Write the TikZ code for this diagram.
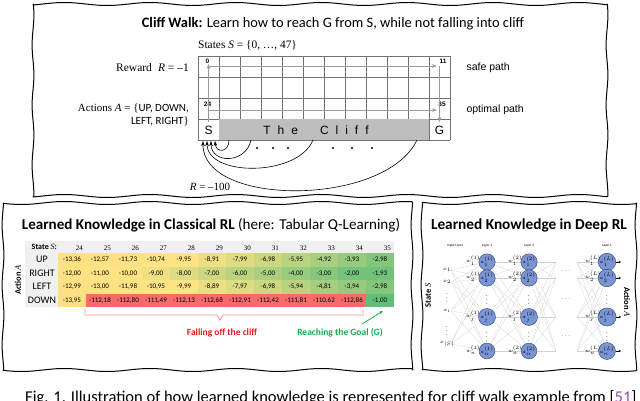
\documentclass[tikz,border=0pt]{standalone}
\usepackage{fontspec}
\setmainfont{Carlito}
\newfontfamily\arialfont{Liberation Sans}
\newfontfamily\timesfont{Liberation Serif}
\usetikzlibrary{arrows.meta}

\definecolor{cred}{HTML}{F8696B}
\definecolor{cyel}{HTML}{FFE484}
\definecolor{cgrn}{HTML}{63BE7B}
\definecolor{hdrgray}{HTML}{F0F0F0}
\definecolor{cliffgray}{HTML}{BEBEBE}
\definecolor{pathgray}{HTML}{9A9A9A}
\definecolor{fallred}{HTML}{F01818}
\definecolor{goalgreen}{HTML}{10B050}
\definecolor{bracketred}{HTML}{F29A9A}
\definecolor{nodeblue}{HTML}{7A95D6}
\definecolor{nodeedge}{HTML}{2E3F6E}
\definecolor{citepurple}{HTML}{8A4FB0}

\tikzset{
  panelline/.style={draw, line width=1pt, line join=round},
  gridline/.style={draw=black!55, line width=0.6pt},
  safearrow/.style={draw=pathgray, line width=0.8pt, -{Stealth[length=5pt]}},
  fallarrow/.style={draw=black, line width=0.6pt, -{Stealth[length=5pt,width=3.5pt]}},
  cellnum/.style={font=\arialfont\bfseries\fontsize{6.5}{7}\selectfont, inner sep=0pt},
  qcell/.style={inner sep=0pt, font=\fontsize{7}{8}\selectfont},
  rowlabel/.style={font=\fontsize{10}{11}\selectfont, inner sep=0pt},
  neuron/.style={circle, draw=nodeedge, fill=nodeblue, line width=0.4pt,
    minimum size=12pt, inner sep=0pt, font=\fontsize{3}{3}\selectfont},
  wire/.style={draw=gray!35, line width=0.25pt},
  tinytext/.style={font=\fontsize{3.5}{4}\selectfont, inner sep=0pt},
  dotsnode/.style={font=\fontsize{6}{6}\selectfont, inner sep=0pt}
}

% hand drawn looking frame: x1, y1, x2, y2
\newcommand{\wavypanel}[4]{%
  \draw[panelline] plot[domain=#1:#3, samples=90, smooth] (\x, {#2+1.5*sin(4.2*\x)})
    -- plot[domain=#2:#4, samples=40, smooth] ({#3+0.9*sin(6*\x)}, \x)
    -- plot[domain=#3:#1, samples=90, smooth] (\x, {#4+1.5*sin(4.2*\x)})
    -- plot[domain=#4:#2, samples=40, smooth] ({#1+0.9*sin(6*\x)}, \x) -- cycle;
}

\begin{document}
\begin{tikzpicture}[x=1pt,y=-1pt]
\useasboundingbox (0,0) rectangle (640,401);

% top panel: the cliff walk grid
\wavypanel{33}{4}{607}{196}
\node[anchor=base, font=\fontsize{14.4}{16}\selectfont] (cwtitle) at (333,28)
  {\textbf{Cliff Walk:} Learn how to reach G from S, while not falling into cliff};
\node[anchor=base west, font=\timesfont\fontsize{11.4}{12}\selectfont, inner sep=0pt] (states) at (198,49)
  {States {\itshape S} = \{0, …, 47\}};
\node[anchor=east, font=\timesfont\fontsize{11.5}{12}\selectfont, inner sep=0pt] (reward) at (189,68)
  {Reward\; {\itshape R} = –1};
\node[anchor=east, font=\fontsize{11}{12}\selectfont, inner sep=0pt] (act1) at (189,108)
  {{\timesfont Actions {\itshape A} = \{}UP, DOWN,};
\node[anchor=east, font=\fontsize{11}{12}\selectfont, inner sep=0pt] (act2) at (189,121)
  {LEFT, RIGHT{\timesfont\}}};
\node[anchor=west, font=\arialfont\fontsize{10.5}{12}\selectfont] (safe) at (463,68) {safe path};
\node[anchor=west, font=\arialfont\fontsize{10.5}{12}\selectfont] (optimal) at (463,110) {optimal path};

\foreach \i in {0,...,12}
  \draw[gridline] (198+21*\i,56) -- (198+21*\i,140);
\foreach \j in {0,...,4}
  \draw[gridline] (198,56+21*\j) -- (450,56+21*\j);
\fill[cliffgray] (219.4,119.4) rectangle (428.6,139.6);

\node[font=\arialfont\fontsize{12}{12}\selectfont] (start) at (208.5,130) {S};
\node[font=\arialfont\fontsize{12}{12}\selectfont] (goal) at (439.5,130) {G};
\node[font=\arialfont\fontsize{12}{12}\selectfont] (cliff) at (316,130)
  {T\hspace{7pt}h\hspace{7pt}e\hspace{22pt}C\hspace{7pt}l\hspace{7pt}i\hspace{7pt}f\hspace{7pt}f};
\node[cellnum] (n0) at (207.5,61) {0};
\node[cellnum] (n11) at (443,61) {11};
\node[cellnum] (n24) at (207.5,104) {24};
\node[cellnum] (n35) at (442,104) {35};

% safe and optimal paths
\coordinate (upTop) at (208.5,64);
\coordinate (safeL) at (208.5,66);
\coordinate (safeR) at (437,66);
\coordinate (downTop) at (439.5,66);
\coordinate (optL) at (208.5,110);
\coordinate (optR) at (437,110);
\draw[safearrow] (start.north) -- (upTop);
\draw[safearrow] (safeL) -- (safeR);
\draw[safearrow] (downTop) -- (goal.north);
\draw[safearrow] (optL) -- (optR);

% falling off the cliff
\coordinate (fall1) at (229,140);
\coordinate (fall2) at (251,140);
\coordinate (fall3) at (313,140);
\coordinate (fall4) at (417,140);
\coordinate (hit1) at (215,141);
\coordinate (hit2) at (211,141);
\coordinate (hit3) at (207,141);
\coordinate (hit4) at (203,141);
\draw[fallarrow] (fall1) .. controls (229,153) and (216,153) .. (hit1);
\draw[fallarrow] (fall2) .. controls (246,164) and (211,164) .. (hit2);
\draw[fallarrow] (fall3) .. controls (298,177) and (207,177) .. (hit3);
\draw[fallarrow] (fall4) .. controls (385,207) and (202,207) .. (hit4);
\foreach \x in {257,273,288,333,352,372}
  \fill (\x,148) circle (1.1pt);
\node[font=\timesfont\fontsize{11}{12}\selectfont] (rfall) at (210,187) {{\itshape R} = –100};

% bottom left panel: Q-table
\wavypanel{3}{203}{412}{370}
\node[anchor=base, font=\fontsize{15.1}{16}\selectfont] (qtitle) at (211,229)
  {\textbf{Learned Knowledge in Classical RL} (here: Tabular Q-Learning)};
\fill[hdrgray] (25,241) rectangle (394,253);
\fill[hdrgray] (25,253) rectangle (58,307);
\node[anchor=east, font=\bfseries\fontsize{8}{9}\selectfont, inner sep=0pt] (statehdr) at (57,247)
  {State {\timesfont\mdseries\itshape S}:};
\node[rotate=90, font=\bfseries\fontsize{8.5}{9}\selectfont] (actlbl) at (18,280)
  {Action {\timesfont\mdseries\itshape A}};
\foreach \s [count=\c from 0] in {24,...,35}
  \node[anchor=east, font=\timesfont\fontsize{7}{8}\selectfont, inner sep=0pt] (col\s) at (83+28*\c,248) {\s};
\foreach \lbl [count=\r from 0] in {UP,RIGHT,LEFT,DOWN}
  \node[rowlabel] (row\lbl) at (42,259.75+13.5*\r) {\lbl};

\foreach \vals [count=\r from 0] in {
  {-13.36,-12.57,-11.73,-10.74,-9.95,-8.91,-7.99,-6.98,-5.95,-4.92,-3.93,-2.98},
  {-12.00,-11.00,-10.00,-9.00,-8.00,-7.00,-6.00,-5.00,-4.00,-3.00,-2.00,-1.93},
  {-12.99,-13.00,-11.98,-10.95,-9.99,-8.89,-7.97,-6.98,-5.94,-4.81,-3.94,-2.98},
  {-13.95,-112.18,-112.80,-111.49,-112.13,-112.68,-112.91,-112.42,-111.81,-110.62,-112.86,-1.00}}{
  \foreach \v [count=\c from 0] in \vals {
    \ifdim \v pt<-9.97pt
      \pgfmathsetmacro\mix{100*(\v+112.91)/102.94}
      \colorlet{qfill}{cyel!\mix!cred}
    \else
      \pgfmathsetmacro\mix{100*(\v+9.97)/8.97}
      \colorlet{qfill}{cgrn!\mix!cyel}
    \fi
    \fill[qfill] (58+28*\c,253+13.5*\r) rectangle ++(28,13.5);
    \node[qcell] (q\r-\c) at (72+28*\c,259.75+13.5*\r)
      {\pgfmathprintnumber[fixed,fixed zerofill,precision=2,use comma,assume math mode=true]{\v}};
  }
}

\draw[bracketred, line width=0.8pt] (85,309) |- (217,315) -- (220,320) -- (223,315) -| (363,309);
\node[font=\bfseries\fontsize{9.5}{11}\selectfont, text=fallred] (falltxt) at (222,333) {Falling off the cliff};
\node[font=\bfseries\fontsize{9.5}{11}\selectfont, text=goalgreen] (goaltxt) at (340,333) {Reaching the Goal (G)};
\coordinate (goalfrom) at (362,324);
\coordinate (goalto) at (383,311);
\draw[goalgreen, line width=0.8pt, -{Stealth[length=4pt]}] (goalfrom) -- (goalto);

% bottom right panel: deep network
\wavypanel{422}{203}{636}{370}
\node[anchor=base, font=\bfseries\fontsize{15.3}{16}\selectfont] (dtitle) at (529,229) {Learned Knowledge in Deep RL};
\node[rotate=90, font=\bfseries\fontsize{8.5}{9}\selectfont] (statelbl) at (428,295)
  {State {\timesfont\mdseries\itshape S}};
\node[rotate=-90, font=\bfseries\fontsize{8.5}{9}\selectfont] (actionlbl) at (627,302)
  {Action {\timesfont\mdseries\itshape A}};
\node[tinytext] (lin) at (455,246) {Input Layer};
\node[tinytext] (l1) at (487,246) {Layer 1};
\node[tinytext] (l2) at (529,246) {Layer 2};
\node[tinytext] (lL) at (607,246) {Layer L};

\foreach \y [count=\k] in {262,278,317,351} {
  \coordinate (pa\k) at (487,\y);
  \coordinate (pb\k) at (529,\y);
  \coordinate (pc\k) at (607,\y);
  \coordinate (m\k) at (556,\y);
  \coordinate (n\k) at (577,\y);
}
\foreach \y [count=\k] in {270,282,311,344}
  \coordinate (in\k) at (451,\y);
\foreach \i in {1,...,4}
  \foreach \j in {1,...,4} {
    \draw[wire] (in\i) -- (pa\j);
    \draw[wire] (pa\i) -- (pb\j);
    \draw[wire] (pb\i) -- (m\j);
    \draw[wire] (n\i) -- (pc\j);
  }
\node[tinytext] (x1) at (447,270) {$x_1$};
\node[tinytext] (x2) at (447,282) {$x_2$};
\node[tinytext] (xi) at (447,311) {$x_i$};
\node[tinytext] (xS) at (447,344) {$x_{|S|}$};
\foreach \y in {295,328}
  \node[dotsnode] at (447,\y) {$\vdots$};

\foreach \y/\idx [count=\k] in {262/1,278/2,317/j,351/n} {
  \node[neuron] (a\k) at (pa\k) {$a^{(1)}_{\idx}$};
  \node[neuron] (b\k) at (pb\k) {$a^{(2)}_{\idx}$};
  \node[neuron] (c\k) at (pc\k) {$a^{(L)}_{\idx}$};
  \node[tinytext] (wa\k) at (473,\y-1) {$w^{(1)}_{\idx}$};
  \node[tinytext] (wb\k) at (515,\y-1) {$w^{(2)}_{\idx}$};
  \node[tinytext] (wc\k) at (593,\y-1) {$w^{(L)}_{\idx}$};
  \coordinate (out\k) at (621,\y);
  \draw[line width=0.4pt, -{Stealth[length=2pt,width=2pt]}] (c\k) -- (out\k);
}
\foreach \x in {487,529,607}
  \foreach \y in {297,334}
    \node[dotsnode] at (\x,\y) {$\vdots$};
\foreach \y in {271,299,336}
  \node[dotsnode] at (566,\y) {$\cdots$};

% caption, cut by the lower edge as in the source
\node[anchor=base west, font=\fontsize{16.5}{18}\selectfont, inner sep=0pt] (caption) at (25,402)
  {Fig. 1. Illustration of how learned knowledge is represented for cliff walk example from [{\color{citepurple}51}]};
\end{tikzpicture}
\end{document}
